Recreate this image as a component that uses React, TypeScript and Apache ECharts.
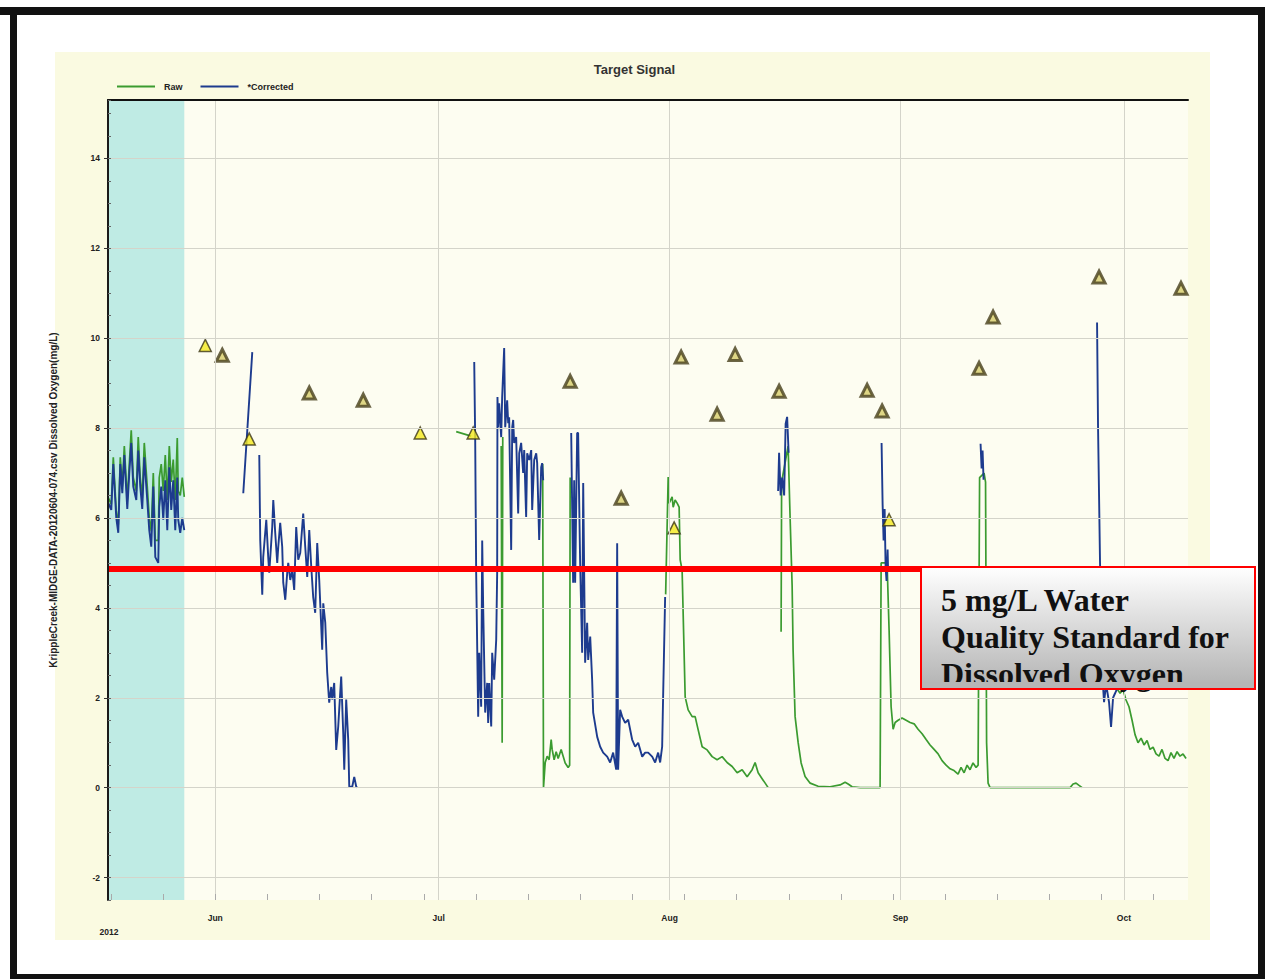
import React, { useEffect, useRef } from 'react';
import * as echarts from 'echarts';

type Pt = [number, number];

// x values are days since 2012-06-01, y values are dissolved oxygen in mg/L
const monthDays = [0, 30, 61, 92, 122];
const monthLabels = ['Jun', 'Jul', 'Aug', 'Sep', 'Oct'];
const weekDays = [-14, -7, 0, 7, 14, 21, 28, 35, 42, 49, 56, 63, 70, 77, 84, 91, 98, 105, 112, 119, 126];
const yTicks = [-2, 0, 2, 4, 6, 8, 10, 12, 14];
const xMin = -14.4;
const xMax = 130.6;
const yMin = -2.5;
const yMax = 15.3;
const cyanRange = [-14.4, -4.16];
const standardLevel = 4.88;

const rawMay: Pt[] = [[-14.35,6.45],[-13.96,6.3],[-13.69,7.35],[-13.29,6.15],[-13.02,5.85],[-12.75,7.35],[-12.48,6.7],[-12.21,7.6],[-11.81,6.4],[-11.54,7.2],[-11.28,7.95],[-11.01,6.9],[-10.6,6.6],[-10.34,7.8],[-10.07,6.9],[-9.8,6.45],[-9.53,7.67],[-9.13,6.7],[-8.86,6.0],[-8.59,5.7],[-8.32,7.0],[-8.05,5.5],[-7.65,5.5],[-7.52,6.9],[-7.25,7.2],[-6.98,6.6],[-6.71,7.4],[-6.44,6.4],[-6.17,7.6],[-5.91,6.8],[-5.64,7.3],[-5.37,6.4],[-5.1,7.78],[-4.97,6.6],[-4.7,6.5],[-4.43,6.9],[-4.16,6.47]];
const rawJulA: Pt[] = [[32.35,7.92],[34.36,7.82]];
const rawJulB: Pt[] = [[38.39,7.6],[38.52,1.0],[38.6,7.8]];
const rawJulEnd: Pt[] = [[43.96,7.2],[44.07,0.0],[44.3,0.56],[44.56,0.7],[44.83,0.62],[45.1,1.07],[45.23,0.85],[45.5,0.62],[45.77,0.8],[46.04,0.65],[46.44,0.85],[46.71,0.7],[46.98,0.55],[47.38,0.45],[47.58,0.5],[47.65,6.9]];
const rawAug: Pt[] = [[60.47,4.3],[60.81,6.91],[60.94,6.33],[61.34,6.47],[61.48,6.24],[61.74,6.4],[62.01,6.33],[62.28,6.24],[62.42,5.07],[62.68,4.84],[63.09,2.02],[63.49,1.73],[64.03,1.58],[64.43,1.58],[64.83,1.29],[65.37,0.91],[66.04,0.84],[66.71,0.69],[67.38,0.62],[68.05,0.69],[68.72,0.56],[69.4,0.47],[70.07,0.33],[70.74,0.4],[71.41,0.24],[72.08,0.4],[72.48,0.56],[72.89,0.33],[73.42,0.2],[73.83,0.1],[74.23,0.0]];
const rawMid: Pt[] = [[75.97,3.47],[76.04,6.8],[76.91,7.6],[77.18,6.0],[77.45,4.5],[77.58,3.07],[77.85,1.58],[78.26,1.0],[78.66,0.55],[79.19,0.25],[79.87,0.1],[80.94,0.03],[82.55,0.02],[83.89,0.06],[84.56,0.12],[84.97,0.08],[85.5,0.02],[86.58,0.0],[87.92,0.0],[89.26,0.0],[89.4,5.0],[90.2,5.0],[90.47,3.5],[90.74,1.8],[91.01,1.3],[91.28,1.45],[91.68,1.5],[92.21,1.55],[92.75,1.5],[93.29,1.45],[93.83,1.42],[94.36,1.3],[94.9,1.2],[95.44,1.07],[95.97,0.95],[96.51,0.85],[97.05,0.75],[97.58,0.6],[98.12,0.5],[98.66,0.42],[99.19,0.38],[99.73,0.3],[100.13,0.45],[100.54,0.33],[100.94,0.5],[101.34,0.4],[101.74,0.55],[102.15,0.45],[102.42,0.5],[102.62,6.9],[103.22,7.0],[103.42,6.8],[103.56,1.0],[103.76,0.1],[104.03,0.0],[108.0,0.0],[112.0,0.0],[114.77,0.0],[115.17,0.08],[115.57,0.1],[115.97,0.05],[116.38,0.0]];
const rawLate: Pt[] = [[121.07,2.2],[121.48,2.1],[121.88,2.18],[122.28,1.95],[122.68,1.8],[123.09,1.5],[123.49,1.18],[123.89,1.0],[124.3,1.1],[124.7,0.95],[125.1,1.05],[125.5,0.85],[125.91,0.9],[126.31,0.75],[126.71,0.7],[127.11,0.85],[127.52,0.65],[127.92,0.6],[128.32,0.78],[128.72,0.65],[129.13,0.8],[129.53,0.7],[129.93,0.75],[130.34,0.65]];

const corrMay: Pt[] = [[-14.35,6.33],[-13.96,6.18],[-13.69,7.2],[-13.29,6.0],[-13.02,5.67],[-12.75,7.2],[-12.48,6.55],[-12.21,7.4],[-11.81,6.2],[-11.54,7.0],[-11.28,7.67],[-11.01,6.7],[-10.6,6.4],[-10.34,7.5],[-10.07,6.7],[-9.8,6.2],[-9.53,7.35],[-9.13,6.4],[-8.86,5.73],[-8.59,5.36],[-8.32,6.7],[-8.05,5.13],[-7.65,5.0],[-7.52,6.24],[-7.25,6.7],[-6.98,5.96],[-6.71,6.84],[-6.44,5.73],[-6.17,7.13],[-5.91,6.18],[-5.64,6.84],[-5.37,5.73],[-5.1,6.9],[-4.97,5.96],[-4.7,5.67],[-4.43,6.0],[-4.16,5.73]];
const corrJunA: Pt[] = [[3.76,6.55],[4.97,9.69]];
const corrJun: Pt[] = [[5.91,7.4],[6.04,5.5],[6.31,4.29],[6.44,5.13],[6.85,5.96],[7.11,5.13],[7.25,4.78],[7.65,5.8],[7.79,6.4],[8.05,5.67],[8.32,5.0],[8.46,5.36],[8.72,5.89],[8.99,5.36],[9.13,4.56],[9.4,4.18],[9.66,4.78],[9.8,5.0],[10.07,4.62],[10.34,4.84],[10.6,4.4],[10.87,5.8],[11.14,5.07],[11.41,5.22],[11.81,6.1],[12.08,5.36],[12.35,4.69],[12.62,5.73],[12.89,4.91],[13.15,4.24],[13.42,3.89],[13.69,5.44],[13.96,4.62],[14.36,3.07],[14.5,4.1],[14.77,3.67],[15.03,2.56],[15.3,1.89],[15.57,2.24],[15.7,1.96],[15.97,2.33],[16.24,0.84],[16.51,1.36],[16.64,1.73],[16.91,2.47],[17.18,1.22],[17.32,0.4],[17.58,1.96],[17.85,1.07],[17.99,0.02],[18.39,0.02],[18.66,0.24],[18.93,0.02],[19.06,0.0]];
const corrJul: Pt[] = [[34.77,9.47],[34.9,7.73],[35.03,4.78],[35.3,1.58],[35.44,3.0],[35.7,1.8],[35.84,5.5],[35.97,4.02],[36.24,1.67],[36.51,2.33],[36.64,1.44],[36.78,2.33],[37.05,1.36],[37.18,3.0],[37.45,2.4],[37.72,3.29],[37.85,4.78],[37.89,8.69],[37.99,8.02],[38.12,8.55],[38.39,7.8],[38.52,8.69],[38.79,9.78],[38.93,8.02],[39.19,8.62],[39.33,8.11],[39.46,8.24],[39.73,5.29],[39.87,8.02],[40.0,8.18],[40.13,7.67],[40.4,7.8],[40.67,6.1],[40.81,7.44],[41.07,7.67],[41.34,7.0],[41.48,7.51],[41.74,6.02],[41.88,7.44],[42.15,7.29],[42.42,7.51],[42.55,6.18],[42.82,7.29],[43.09,7.44],[43.22,7.22],[43.49,5.51],[43.76,7.13],[43.89,7.22],[44.03,6.84]];
const corrAug: Pt[] = [[47.79,7.89],[48.05,4.56],[48.19,6.84],[48.32,4.56],[48.59,7.89],[48.72,7.89],[48.99,5.0],[49.26,3.0],[49.4,6.78],[49.66,2.78],[49.93,3.67],[50.07,2.84],[50.34,3.36],[50.6,2.4],[50.74,1.67],[51.28,1.13],[51.68,0.91],[52.08,0.78],[52.62,0.69],[53.02,0.56],[53.42,0.78],[53.83,0.4],[53.96,5.44],[54.09,0.4],[54.36,1.73],[54.63,1.58],[55.03,1.44],[55.44,1.51],[55.97,1.07],[56.38,0.91],[56.78,1.0],[57.32,0.69],[57.72,0.78],[58.12,0.78],[58.66,0.69],[59.06,0.56],[59.46,0.78],[59.73,0.56],[60.0,0.91],[60.13,2.02],[60.4,4.24]];
const corrAugMid: Pt[] = [[75.57,6.6],[75.7,7.45],[75.91,6.5],[76.11,6.9],[76.38,6.5],[76.58,8.1],[76.78,8.25],[76.98,7.45]];
const corrSep: Pt[] = [[89.46,7.67],[89.6,6.3],[89.73,5.5],[89.87,6.2],[90.0,4.9],[90.13,4.6],[90.27,5.3],[90.34,4.8]];
const corrSepMid: Pt[] = [[102.75,7.65],[102.89,7.1],[103.02,7.5],[103.15,6.85]];
const corrLate: Pt[] = [[118.39,10.35],[118.52,8.05],[118.79,5.0],[119.06,2.6],[119.33,1.9],[119.6,2.3],[120.0,1.9],[120.27,1.35],[120.54,2.0],[120.81,2.1],[121.07,2.2]];

const triDays = [-1.34, 0.94, 4.56, 12.62, 19.87, 27.52, 34.63, 47.65, 54.5, 62.55, 61.61, 67.38, 69.8, 75.7, 87.52, 89.53, 90.47, 102.55, 104.43, 118.66, 129.66];
const triValues = [9.84, 9.62, 7.76, 8.78, 8.62, 7.89, 7.89, 9.04, 6.44, 9.58, 5.78, 8.31, 9.64, 8.82, 8.84, 8.38, 5.96, 9.33, 10.47, 11.36, 11.11];
const triBright = [true, false, true, false, false, true, true, false, false, false, true, false, false, false, false, false, true, false, false, false, false];

const FONT = 'Liberation Sans';

function joinSegments(segs: Pt[][]) {
  const out: any[] = [];
  segs.forEach((s, i) => {
    if (i) out.push([s[0][0], '-']);
    s.forEach((p) => out.push(p));
  });
  return out;
}

export default function App() {
  const ref = useRef<HTMLDivElement>(null);
  useEffect(() => {
    const chart = echarts.init(ref.current!, undefined, { renderer: 'svg' });
    const smallText = { fontFamily: FONT, fontSize: 8.5, fontWeight: 'bold', color: '#222' };
    const option: any = {
      animation: false,
      backgroundColor: '#ffffff',
      title: {
        text: 'Target Signal',
        left: 'center',
        top: 58,
        textStyle: { fontFamily: FONT, fontSize: 13, fontWeight: 'bold', color: '#333' },
      },
      legend: {
        left: 112,
        top: 77,
        icon: 'rect',
        itemWidth: 38,
        itemHeight: 2,
        itemGap: 18,
        data: ['Raw', '*Corrected'],
        textStyle: { fontFamily: FONT, fontSize: 9, fontWeight: 'bold', color: '#222', padding: [0, 0, 0, 4] },
      },
      grid: { left: 108, right: 81, top: 100, bottom: 79, show: true, backgroundColor: '#fdfdf1', borderWidth: 0 },
      xAxis: [
        {
          type: 'value', min: xMin, max: xMax, position: 'bottom',
          axisLine: { show: false, onZero: false },
          axisTick: { show: false, customValues: monthDays },
          splitLine: { show: false },
          axisLabel: {
            customValues: monthDays,
            formatter: (v: number) => monthLabels[monthDays.indexOf(v)] ?? '',
            margin: 13,
            ...smallText,
          },
        },
        {
          type: 'value', min: xMin, max: xMax, position: 'bottom', z: 10,
          axisLine: { show: false, onZero: false },
          axisTick: { show: true, inside: true, length: 6, customValues: weekDays, lineStyle: { color: '#aaaaaa' } },
          axisLabel: { show: false },
          splitLine: { show: false },
        },
        {
          type: 'value', min: xMin, max: xMax, position: 'top', z: 10,
          axisLine: { show: true, onZero: false, lineStyle: { color: '#111111', width: 2 } },
          axisTick: { show: false },
          axisLabel: { show: false },
          splitLine: { show: false },
        },
      ],
      yAxis: [
        {
          type: 'value', min: yMin, max: yMax, position: 'left', z: 10,
          name: 'KrippleCreek-MIDGE-DATA-20120604-074.csv Dissolved Oxygen(mg/L)',
          nameLocation: 'middle', nameGap: 50, nameRotate: 90,
          nameTextStyle: { fontFamily: FONT, fontSize: 10, fontWeight: 'bold', color: '#222' },
          axisLine: { show: true, onZero: false, lineStyle: { color: '#1a1a1a', width: 2 } },
          axisTick: { show: true, customValues: yTicks, length: 4, lineStyle: { color: '#333' } },
          axisLabel: { customValues: yTicks, margin: 8, ...smallText },
          splitLine: { show: false },
        },
        {
          type: 'value', min: yMin, max: yMax, interval: 0.5, position: 'left', z: 10,
          axisLine: { show: false, onZero: false },
          axisTick: { show: true, inside: true, length: 3, lineStyle: { color: '#666' } },
          axisLabel: { show: false },
          splitLine: { show: false },
        },
      ],
      series: [
        {
          name: 'gridlines', type: 'line', data: [], silent: true, z: 1,
          markArea: {
            silent: true,
            itemStyle: { color: 'rgba(166,227,223,0.72)' },
            data: [[{ xAxis: cyanRange[0] }, { xAxis: cyanRange[1] }]],
          },
          markLine: {
            silent: true, symbol: ['none', 'none'], label: { show: false },
            lineStyle: { color: '#d4d4ca', width: 1, type: 'solid' },
            emphasis: { disabled: true },
            data: [...monthDays.map((d) => ({ xAxis: d })), ...yTicks.map((v) => ({ yAxis: v }))],
          },
        },
        {
          name: 'Raw', type: 'line', data: joinSegments([rawMay, rawJulA, rawJulB, rawJulEnd, rawAug, rawMid, rawLate]),
          symbol: 'none', showSymbol: false, connectNulls: false, z: 2,
          lineStyle: { color: '#3b9b30', width: 1.7 }, itemStyle: { color: '#3b9b30' },
        },
        {
          name: '*Corrected', type: 'line',
          data: joinSegments([corrMay, corrJunA, corrJun, corrJul, corrAug, corrAugMid, corrSep, corrSepMid, corrLate]),
          symbol: 'none', showSymbol: false, connectNulls: false, z: 3,
          lineStyle: { color: '#1d3b8e', width: 1.9 }, itemStyle: { color: '#1d3b8e' },
        },
        {
          name: 'samples', type: 'scatter', symbol: 'triangle', symbolSize: 12, z: 4,
          data: triDays.map((d, i) => ({
            value: [d, triValues[i]],
            itemStyle: triBright[i]
              ? { color: '#f4e81e', borderColor: '#3a3415', borderWidth: 1.5 }
              : { color: '#d6cc6a', borderColor: '#463e1b', borderWidth: 3 },
          })),
        },
        {
          name: 'standard', type: 'line', data: [], silent: true, z: 5,
          markLine: {
            silent: true, symbol: ['none', 'none'], label: { show: false },
            lineStyle: { color: '#ff0000', width: 6, type: 'solid' },
            emphasis: { disabled: true },
            data: [{ yAxis: standardLevel }],
          },
        },
      ],
      graphic: [
        { type: 'rect', z: -5, shape: { x: 55, y: 52, width: 1155, height: 888 }, style: { fill: '#fafae1' } },
        { type: 'rect', z: 100, shape: { x: 0, y: 7, width: 1265, height: 8 }, style: { fill: '#111' } },
        { type: 'rect', z: 100, shape: { x: 10, y: 7, width: 7, height: 972 }, style: { fill: '#111' } },
        { type: 'rect', z: 100, shape: { x: 1258, y: 7, width: 7, height: 972 }, style: { fill: '#111' } },
        { type: 'rect', z: 100, shape: { x: 10, y: 974, width: 1255, height: 5 }, style: { fill: '#111' } },
        {
          type: 'text', z: 100, x: 109, y: 932,
          style: { text: '2012', font: `bold 8.5px "${FONT}"`, fill: '#222', align: 'center', verticalAlign: 'middle' },
        },
        {
          type: 'rect', z: 100, shape: { x: 921, y: 567, width: 334, height: 122 },
          style: {
            fill: new echarts.graphic.LinearGradient(0, 0, 0, 1, [
              { offset: 0, color: '#ffffff' },
              { offset: 1, color: '#b2b2b2' },
            ]),
          },
        },
        {
          type: 'text', z: 101, x: 941, y: 581,
          style: {
            text: '5 mg/L Water\nQuality Standard for\nDissolved Oxygen',
            font: 'bold 32px "Liberation Serif"', lineHeight: 37, fill: '#111', verticalAlign: 'top', align: 'left',
          },
        },
        { type: 'rect', z: 102, shape: { x: 922, y: 682, width: 332, height: 7 }, style: { fill: '#b6b6b6' } },
        {
          type: 'rect', z: 103, shape: { x: 921, y: 567, width: 334, height: 122 },
          style: { fill: 'none', stroke: '#ff0000', lineWidth: 2 },
        },
      ],
    };
    chart.setOption(option);
    return () => chart.dispose();
  }, []);
  return <div ref={ref} style={{ position: 'absolute', left: 0, top: 0, width: 1269, height: 979 }} />;
}
